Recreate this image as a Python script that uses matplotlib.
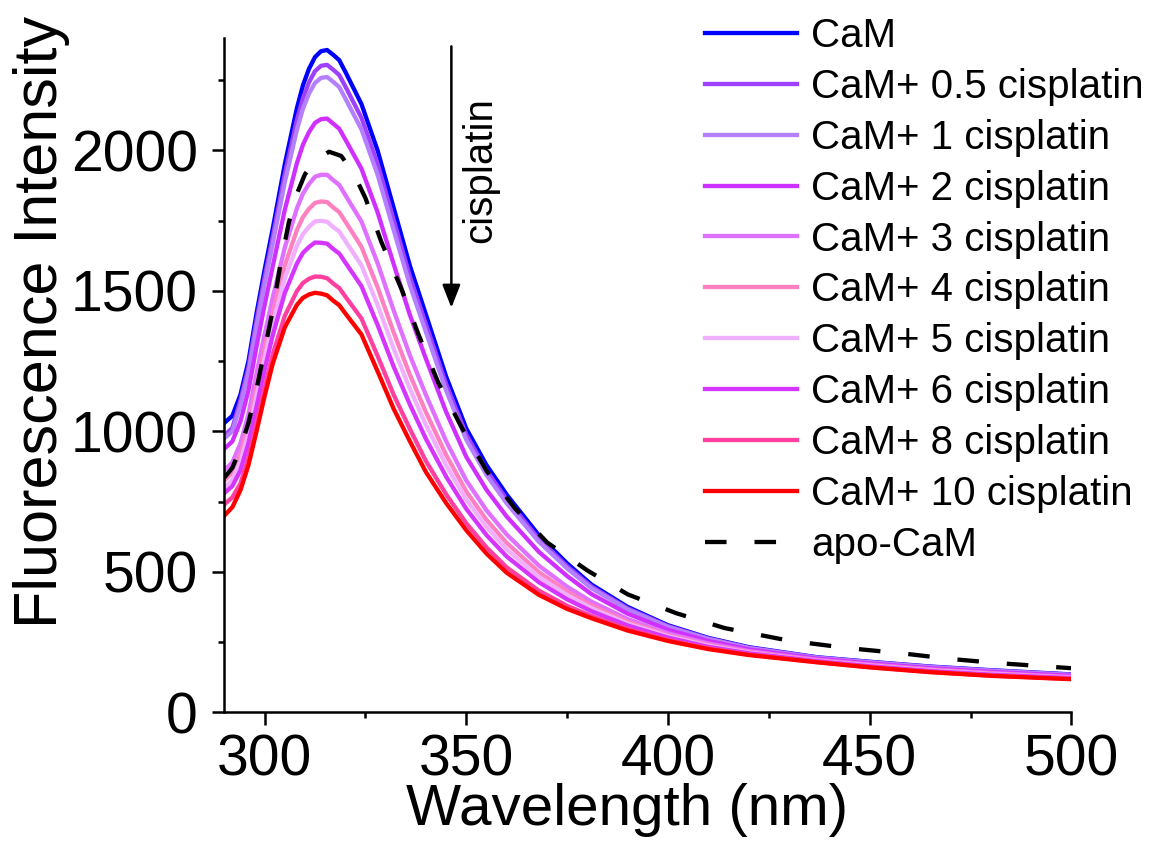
import matplotlib.pyplot as plt
from matplotlib.ticker import MultipleLocator

plt.rcParams['font.family'] = ['Liberation Sans', 'DejaVu Sans']

# Reading data --------------------------------------------------------
wl = [290, 292, 294, 296, 298, 300, 302, 305, 308, 309.5, 311, 312.5, 314, 315.5, 317,
      318.5, 320, 324, 328, 332, 336, 340, 345, 350, 355, 360, 368, 375, 381, 390,
      400, 410, 420, 437, 450, 465, 480, 500]

cam = [1030, 1055, 1130, 1250, 1420, 1575, 1720, 1950, 2150, 2231, 2290, 2332, 2353, 2357, 2340,
       2321, 2280, 2165, 2000, 1795, 1590, 1415, 1195, 1010, 880, 775, 630, 530, 455, 375,
       310, 265, 232, 196, 180, 163, 150, 135]
cis05 = [985, 1012, 1110, 1228, 1395, 1548, 1691, 1915, 2108, 2185, 2242, 2282, 2301, 2304, 2287,
         2268, 2228, 2116, 1953, 1752, 1552, 1381, 1168, 988, 861, 758, 617, 520, 448, 370,
         307, 263, 230, 195, 179, 162, 149, 134]
cis1 = [975, 1000, 1093, 1209, 1374, 1525, 1667, 1886, 2073, 2148, 2202, 2240, 2258, 2261, 2244,
        2225, 2185, 2075, 1914, 1716, 1521, 1353, 1145, 970, 845, 744, 607, 512, 442, 366,
        304, 261, 229, 194, 178, 161, 148, 133]
cis2 = [938, 964, 1035, 1146, 1302, 1449, 1586, 1788, 1954, 2020, 2065, 2098, 2111, 2113, 2095,
        2077, 2039, 1935, 1780, 1595, 1415, 1258, 1069, 909, 792, 697, 571, 485, 421, 351,
        294, 254, 224, 191, 174, 157, 144, 130]
cis3 = [862, 889, 957, 1061, 1206, 1345, 1475, 1654, 1793, 1846, 1880, 1906, 1913, 1913, 1894,
        1877, 1841, 1747, 1599, 1430, 1271, 1129, 965, 825, 719, 633, 522, 447, 394, 332,
        281, 245, 218, 187, 170, 153, 140, 126]
cis4 = [825, 853, 919, 1021, 1160, 1296, 1422, 1590, 1716, 1762, 1792, 1813, 1818, 1816, 1797,
        1780, 1747, 1657, 1513, 1352, 1202, 1068, 916, 786, 685, 603, 499, 430, 381, 323,
        275, 240, 215, 185, 168, 151, 138, 124]
cis5 = [799, 827, 892, 991, 1126, 1260, 1384, 1544, 1660, 1702, 1728, 1747, 1749, 1746, 1727,
        1711, 1678, 1591, 1450, 1294, 1152, 1023, 880, 757, 660, 580, 482, 417, 371, 316,
        271, 237, 212, 183, 166, 149, 136, 123]
cis6 = [780, 805, 861, 958, 1088, 1219, 1341, 1492, 1597, 1635, 1656, 1672, 1671, 1668, 1649,
        1633, 1601, 1517, 1379, 1230, 1096, 973, 839, 724, 631, 555, 463, 402, 360, 309,
        266, 233, 210, 182, 164, 147, 134, 122]
cis8 = [740, 765, 814, 906, 1029, 1156, 1274, 1411, 1499, 1528, 1543, 1551, 1550, 1545, 1526,
        1510, 1480, 1402, 1269, 1130, 1009, 894, 776, 673, 587, 516, 433, 379, 343, 297,
        258, 228, 206, 179, 161, 144, 131, 119]
cis10 = [700, 730, 790, 880, 1000, 1125, 1240, 1370, 1450, 1475, 1487, 1493, 1490, 1484, 1465,
         1449, 1420, 1345, 1214, 1080, 965, 855, 745, 648, 565, 497, 418, 368, 335, 291,
         254, 225, 204, 178, 160, 143, 130, 118]

wl_apo = [290, 292, 294, 296, 298, 300, 302, 304, 306, 308, 310, 313, 316, 319, 322, 325,
          329, 334, 338, 343, 349, 355, 362, 370, 380, 390, 402, 414, 430, 445, 458,
          470, 482, 500]
apo = [835, 870, 940, 1030, 1150, 1290, 1430, 1600, 1743, 1845, 1915, 1970, 1995, 1980,
       1920, 1830, 1672, 1504, 1350, 1175, 1010, 860, 727, 605, 505, 420, 353, 300,
       255, 228, 210, 190, 175, 157]

labels = ['CaM', 'CaM+ 0.5 cisplatin', 'CaM+ 1 cisplatin', 'CaM+ 2 cisplatin',
          'CaM+ 3 cisplatin', 'CaM+ 4 cisplatin', 'CaM+ 5 cisplatin',
          'CaM+ 6 cisplatin', 'CaM+ 8 cisplatin', 'CaM+ 10 cisplatin']
series = [cam, cis05, cis1, cis2, cis3, cis4, cis5, cis6, cis8, cis10]
colors = ['#0000FF', '#A040FF', '#B580FF', '#D030FF', '#E070FF',
          '#FF80C0', '#F0B0FF', '#D535FF', '#FF40A0', '#FF0000']

# Plot -----------------------------------------------------------------
fig = plt.figure(figsize=(11.62, 8.43), dpi=100)
ax = fig.add_axes([0.193, 0.155, 0.729, 0.8])

for y, c, lab in zip(series, colors, labels):
    ax.plot(wl, y, color=c, lw=3.1, label=lab, solid_joinstyle='round')
ax.plot(wl_apo, apo, color='black', lw=3.1, dashes=(5, 6.5), label='apo-CaM')

ax.annotate('', xy=(346.3, 1430), xytext=(346.3, 2380),
            arrowprops=dict(arrowstyle='-|>,head_length=1.4,head_width=0.55',
                            color='black', lw=1.8))
ax.text(353.5, 1930, 'cisplatin', rotation=90, ha='center', va='center', fontsize=29)

ax.set_xlim(290, 500)
ax.set_ylim(0, 2400)
ax.xaxis.set_major_locator(MultipleLocator(50))
ax.xaxis.set_minor_locator(MultipleLocator(25))
ax.yaxis.set_major_locator(MultipleLocator(500))
ax.yaxis.set_minor_locator(MultipleLocator(250))
ax.spines['top'].set_visible(False)
ax.spines['right'].set_visible(False)
for s in ['left', 'bottom']:
    ax.spines[s].set_linewidth(1.8)
ax.tick_params(which='major', length=9, width=1.8, labelsize=41)
ax.tick_params(which='minor', length=4, width=1.8)
ax.tick_params(axis='x', which='major', pad=6)
ax.tick_params(axis='y', which='major', pad=10)

ax.set_xlabel('Wavelength (nm)', fontsize=42)
ax.set_ylabel('Fluorescence Intensity', fontsize=44)
ax.xaxis.set_label_coords(0.476, -0.105)
ax.yaxis.set_label_coords(-0.182, 0.579)

ax.legend(loc='upper left', bbox_to_anchor=(0.548, 1.055), frameon=False, fontsize=29,
          handlelength=2.3, handletextpad=0.35, labelspacing=0.32, borderaxespad=0)

plt.savefig('out.png', dpi=100)
